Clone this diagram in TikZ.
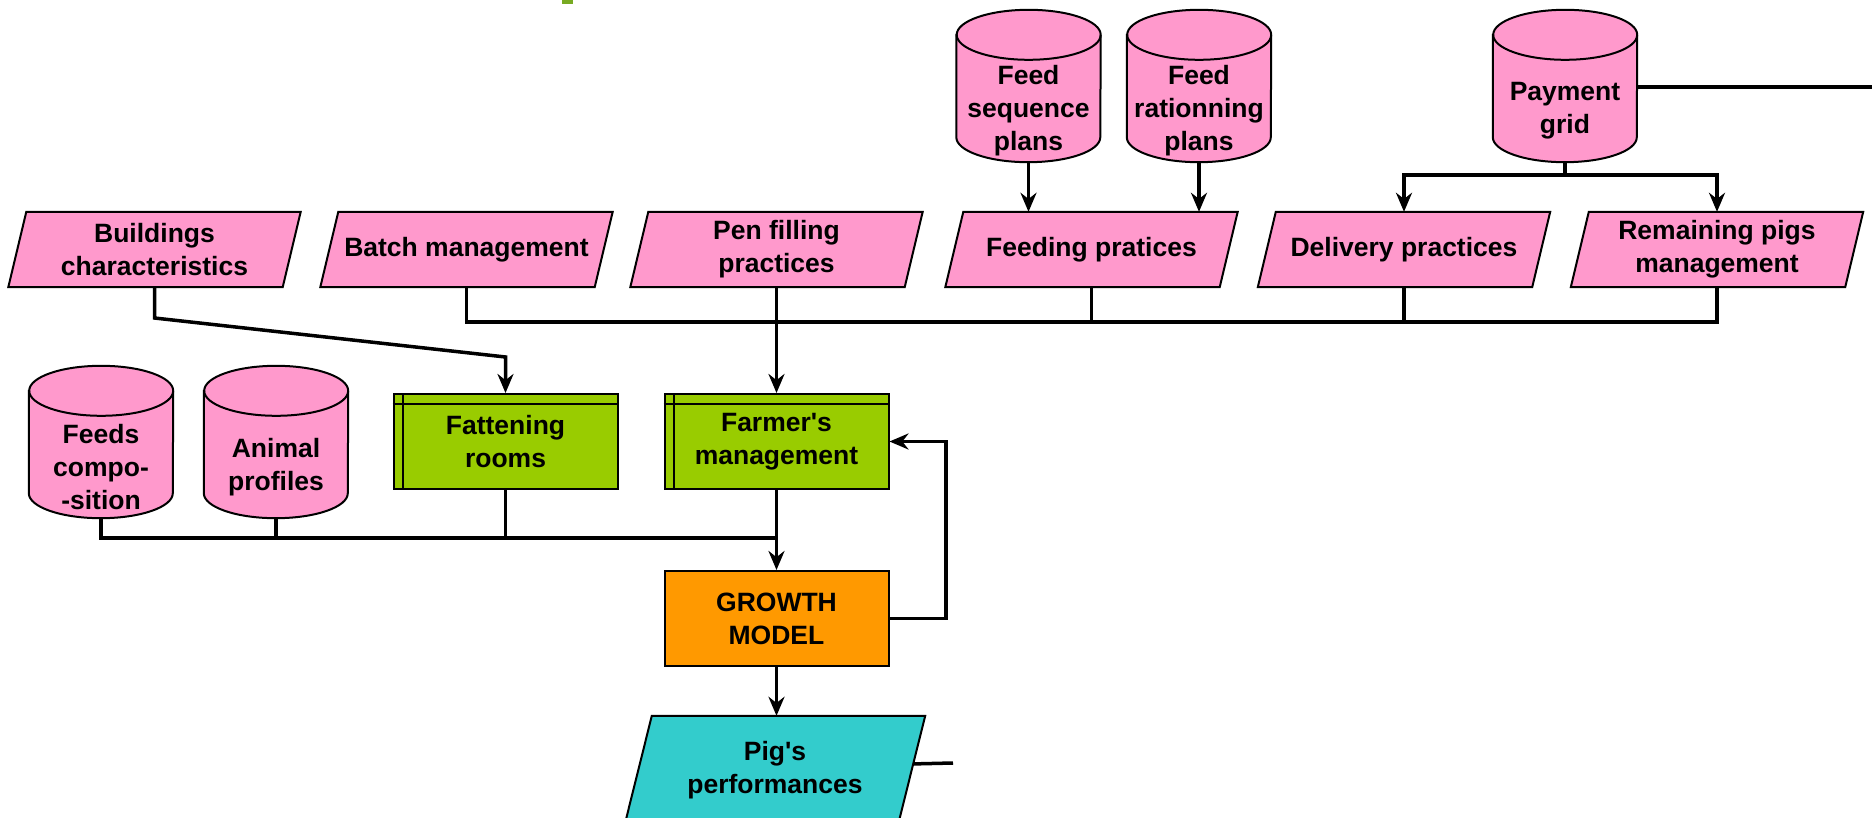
\documentclass[tikz,border=0pt]{standalone}
\usepackage{fontspec}
\setmainfont{Liberation Sans}
\usetikzlibrary{arrows.meta,backgrounds,calc}
\definecolor{pinkf}{HTML}{FF99CC}
\definecolor{greenf}{HTML}{99CC00}
\definecolor{orangef}{HTML}{FF9900}
\definecolor{tealf}{HTML}{33CCCC}
\definecolor{markg}{HTML}{78AA22}
\begin{document}
\begin{tikzpicture}[x=1pt,y=-1pt,
  lbl/.style={font=\bfseries\fontsize{26.5}{33}\selectfont, align=center, inner sep=0pt},
  parbox/.style={lbl, minimum width=292pt, minimum height=75pt},
  pigbox/.style={lbl, minimum width=300pt, minimum height=108pt},
  cylbox/.style={lbl, minimum width=144pt, minimum height=102pt},
  greenbox/.style={lbl, draw, line width=2pt, fill=greenf, minimum width=224pt, minimum height=95pt},
  growbox/.style={lbl, draw, line width=2pt, fill=orangef, minimum width=224pt, minimum height=95pt},
  shapeline/.style={draw, line width=2pt, line join=miter},
  conn/.style={line width=3.5pt, line join=miter},
  arr/.style={conn, -{Stealth[length=19pt,width=16pt]}}
]
\useasboundingbox (0,0) rectangle (1872,818);
\fill[markg] (562,0) rectangle (573,4);

% parallelograms (top row)
\node[parbox] (bld) at (154.5,249.5) {Buildings\\characteristics};
\node[parbox] (bat) at (466.5,249.5) {Batch management};
\node[parbox] (pen) at (776.5,249.5) {Pen filling\\practices};
\node[parbox] (fed) at (1091.5,249.5) {Feeding pratices};
\node[parbox] (del) at (1404,249.5) {Delivery practices};
\node[parbox] (rem) at (1717,249.5) {Remaining pigs\\management};

% cylinders
\node[cylbox] (fsq) at (1028.5,111) {Feed\\sequence\\plans};
\node[cylbox] (frp) at (1199,111) {Feed\\rationning\\plans};
\node[cylbox] (pay) at (1565,111) {Payment\\grid};
\node[cylbox] (fco) at (101,467) {Feeds\\compo-\\-sition};
\node[cylbox] (ani) at (276,467) {Animal\\profiles};

% green boxes
\node[greenbox] (fat) at (505.5,441.5) {Fattening\\rooms};
\node[greenbox] (far) at (776.5,441.5) {Farmer\textquotesingle s\\management};
\foreach \n in {fat,far}{
  \draw[line width=2pt] ([xshift=10pt]\n.north west) -- ([xshift=10pt]\n.south west);
  \draw[line width=2pt] ([yshift=-11pt]\n.north west) -- ([yshift=-11pt]\n.north east);
}

% growth model and output
\node[growbox] (gro) at (776.5,618.5) {GROWTH\\MODEL};
\node[pigbox] (pig) at (775,770) {Pig\textquotesingle s\\performances};

\begin{scope}[on background layer]
  \foreach \n in {bld,bat,pen,fed,del,rem}{
    \path[shapeline, fill=pinkf] (\n.south west) -- ([xshift=-18pt]\n.south east)
      -- (\n.north east) -- ([xshift=18pt]\n.north west) -- cycle;
  }
  \path[shapeline, fill=tealf] (pig.south west) -- ([xshift=-27pt]pig.south east)
      -- (pig.north east) -- ([xshift=27pt]pig.north west) -- cycle;
  \foreach \n in {fsq,frp,pay,fco,ani}{
    \path[shapeline, fill=pinkf] ([yshift=25pt]\n.north west) -- ([yshift=25pt]\n.south west)
      arc[start angle=180, end angle=360, x radius=72pt, y radius=25pt]
      -- ([yshift=25pt]\n.north east)
      arc[start angle=0, end angle=180, x radius=72pt, y radius=25pt] -- cycle;
    \draw[line width=2pt] ([yshift=25pt]\n.north east)
      arc[start angle=0, end angle=-180, x radius=72pt, y radius=25pt];
  }
\end{scope}

% coordinates for connector routing
\coordinate (busA) at (0,322);
\coordinate (busB) at (0,538);
\coordinate (split) at (0,175);
\coordinate (bk1) at (154.5,318);
\coordinate (bk2) at (0,357);
\coordinate (payout) at (1872,87);
\coordinate (fb) at (946,0);
\coordinate (pigout) at (953,763);

% upper bus
\draw[conn] (bat.south) -- (bat.south |- busA) -- (rem.south |- busA) -- (rem.south);
\foreach \n in {pen,fed,del}{
  \draw[conn] (\n.south) -- (\n.south |- busA);
}
\draw[arr] (pen.south |- busA) -- (far.north);

% buildings to fattening rooms
\draw[arr] (bld.south) -- (bk1) -- (fat.north |- bk2) -- (fat.north);

% feed plans
\draw[arr] (fsq.south) -- (fsq.south |- fed.north);
\draw[arr] (frp.south) -- (frp.south |- fed.north);

% payment grid
\draw[conn] (pay.south) -- (pay.south |- split);
\draw[arr] (pay.south |- split) -| (del.north);
\draw[arr] (pay.south |- split) -| (rem.north);
\draw[conn] (pay.north east |- payout) -- (payout);

% lower bus
\draw[conn] (fco.south) -- (fco.south |- busB) -- (far.south |- busB) -- (far.south);
\foreach \n in {ani,fat}{
  \draw[conn] (\n.south) -- (\n.south |- busB);
}
\draw[arr] (far.south |- busB) -- (gro.north);

% feedback loop
\draw[arr] (gro.east) -- (gro.east -| fb) -- (fb |- far.east) -- (far.east);

% output
\draw[arr] (gro.south) -- (gro.south |- pig.north);
\draw[conn] ($(pig.north east)!0.444!([xshift=-27pt]pig.south east)$) -- (pigout);
\end{tikzpicture}
\end{document}
